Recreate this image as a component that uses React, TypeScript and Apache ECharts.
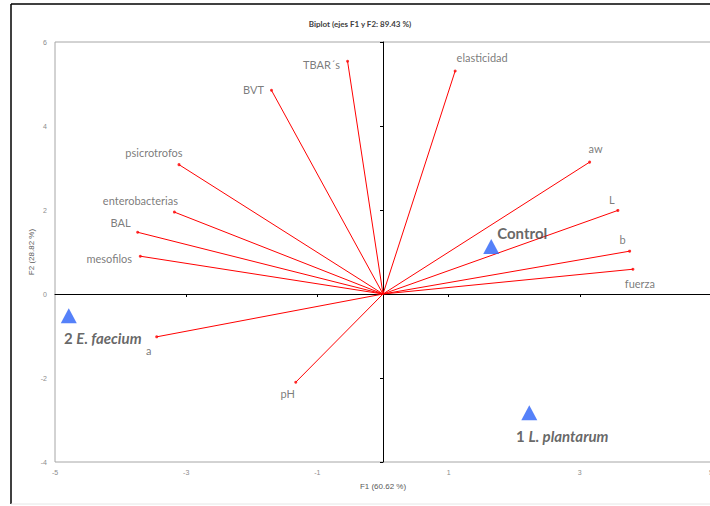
import React, { useEffect, useRef } from "react";
import * as echarts from "echarts";

// Variable loadings (F1, F2)
const variables = ["elasticidad", "TBAR´s", "BVT", "psicrotrofos", "enterobacterias", "BAL", "mesofilos", "a", "pH", "aw", "L", "b", "fuerza"];
const varF1 = [1.1, -0.54, -1.7, -3.11, -3.18, -3.74, -3.7, -3.45, -1.33, 3.15, 3.58, 3.76, 3.81];
const varF2 = [5.31, 5.54, 4.85, 3.08, 1.95, 1.47, 0.9, -1.02, -2.1, 3.14, 1.99, 1.02, 0.59];

// Treatment scores (F1, F2)
const treatments = ["Control", "2 E. faecium", "1 L. plantarum"];
const trtF1 = [1.65, -4.79, 2.23];
const trtF2 = [1.13, -0.52, -2.83];

const xLabelValues = [-5, -3, -1, 1, 3, 5];
const yLabelValues = [-4, -2, 0, 2, 4, 6];

// Label offsets (px) from each loading point
const varLabelOffset: Record<string, [number, number]> = {
  elasticidad: [27, -13],
  "TBAR´s": [-26, 3],
  BVT: [-18, -1],
  psicrotrofos: [-25, -12],
  enterobacterias: [-34, -12],
  BAL: [-17, -10],
  mesofilos: [-31, 2],
  a: [-8, 14],
  pH: [-8, 11],
  aw: [6, -14],
  L: [-6, -11],
  b: [-7, -12],
  fuerza: [7, 14],
};

const trtLabel: Record<string, { text: string; offset: [number, number] }> = {
  Control: { text: "{b|Control}", offset: [31, -14] },
  "2 E. faecium": { text: "{b|2 }{i|E. faecium}", offset: [34, 22] },
  "1 L. plantarum": { text: "{b|1 }{i|L. plantarum}", offset: [33, 23] },
};

export default function App() {
  const ref = useRef<HTMLDivElement>(null);

  useEffect(() => {
    if (!ref.current) return;
    const chart = echarts.init(ref.current, undefined, { renderer: "svg" });

    const vecSeries = variables.map((name, i) => ({
      type: "line" as const,
      name,
      xAxisIndex: 0,
      yAxisIndex: 0,
      data: [
        [0, 0],
        [varF1[i], varF2[i]],
      ],
      showSymbol: false,
      symbol: "none",
      silent: true,
      lineStyle: { color: "#ff0000", width: 1 },
      z: 3,
    }));

    const tickFont = { fontFamily: "Liberation Sans", fontSize: 7, color: "#8c8c8c" };

    chart.setOption({
      animation: false,
      backgroundColor: "#ffffff",
      title: {
        text: "Biplot (ejes F1 y F2: 89.43 %)",
        left: 355,
        top: 15,
        textAlign: "center",
        textStyle: { fontFamily: "Lato", fontSize: 8, fontWeight: "bold", color: "#404040" },
      },
      grid: {
        left: 55,
        top: 42,
        right: -1,
        bottom: 44,
        outerBoundsMode: "none",
        containLabel: false,
        show: true,
        borderColor: "#a6a6a6",
        borderWidth: 1,
        backgroundColor: "transparent",
      },
      xAxis: [
        {
          type: "value",
          min: -5,
          max: 5,
          interval: 1,
          position: "bottom",
          name: "F1 (60.62 %)",
          nameLocation: "middle",
          nameGap: 20,
          nameMoveOverlap: false,
          nameTextStyle: { fontFamily: "Liberation Sans", fontSize: 8, color: "#595959" },
          axisLine: { show: false, onZero: false },
          axisTick: { show: false },
          splitLine: { show: false },
          axisLabel: { ...tickFont, margin: 7, customValues: xLabelValues },
        },
        {
          type: "value",
          min: -5,
          max: 5,
          interval: 1,
          position: "bottom",
          axisLine: { show: true, onZero: true, lineStyle: { color: "#000000", width: 1 } },
          axisTick: { show: true, length: 3, inside: false, lineStyle: { color: "#000000" }, customValues: [-3, -1, 1, 3] },
          axisLabel: { show: false },
          splitLine: { show: false },
        },
      ],
      yAxis: [
        {
          type: "value",
          min: -4,
          max: 6,
          interval: 2,
          position: "left",
          name: "F2 (28.82 %)",
          nameLocation: "middle",
          nameGap: 20,
          nameMoveOverlap: false,
          nameRotate: 90,
          nameTextStyle: { fontFamily: "Liberation Sans", fontSize: 8, color: "#595959" },
          axisLine: { show: false, onZero: false },
          axisTick: { show: false },
          splitLine: { show: false },
          axisLabel: { ...tickFont, margin: 8, customValues: yLabelValues },
        },
        {
          type: "value",
          min: -4,
          max: 6,
          interval: 2,
          position: "left",
          axisLine: { show: true, onZero: true, lineStyle: { color: "#000000", width: 1 } },
          axisTick: { show: true, length: 3, inside: false, lineStyle: { color: "#000000" } },
          axisLabel: { show: false },
          splitLine: { show: false },
        },
      ],
      series: [
        ...vecSeries,
        {
          type: "scatter",
          name: "variables",
          xAxisIndex: 0,
          yAxisIndex: 0,
          symbol: "circle",
          symbolSize: 3,
          itemStyle: { color: "#ff0000" },
          z: 4,
          data: variables.map((name, i) => ({
            name,
            value: [varF1[i], varF2[i]],
            label: {
              show: true,
              position: "inside",
              offset: varLabelOffset[name],
              formatter: name,
              fontFamily: "Lato",
              fontSize: 11,
              color: "#595959",
            },
          })),
        },
        {
          type: "scatter",
          name: "tratamientos",
          xAxisIndex: 0,
          yAxisIndex: 0,
          symbol: "triangle",
          symbolSize: [16, 15],
          itemStyle: { color: "#2a62f7" },
          z: 5,
          data: treatments.map((name, i) => ({
            name,
            value: [trtF1[i], trtF2[i]],
            label: {
              show: true,
              position: "inside",
              offset: trtLabel[name].offset,
              formatter: trtLabel[name].text,
              rich: {
                b: { fontFamily: "Lato", fontSize: 15, fontWeight: "bold", color: "#404040" },
                i: { fontFamily: "Lato", fontSize: 15, fontWeight: "bold", fontStyle: "italic", color: "#404040" },
              },
            },
          })),
        },
      ],
      graphic: [
        { type: "line", shape: { x1: 11, y1: 4, x2: 11, y2: 504 }, style: { stroke: "#000000", lineWidth: 1.5 } },
        { type: "line", shape: { x1: 11, y1: 4, x2: 710, y2: 4 }, style: { stroke: "#000000", lineWidth: 1.5 } },
        { type: "line", shape: { x1: 11, y1: 504, x2: 710, y2: 504 }, style: { stroke: "#e6e6e6", lineWidth: 1 } },
      ],
    });

    return () => chart.dispose();
  }, []);

  return <div ref={ref} style={{ position: "fixed", left: 0, top: 0, width: 710, height: 506 }} />;
}
